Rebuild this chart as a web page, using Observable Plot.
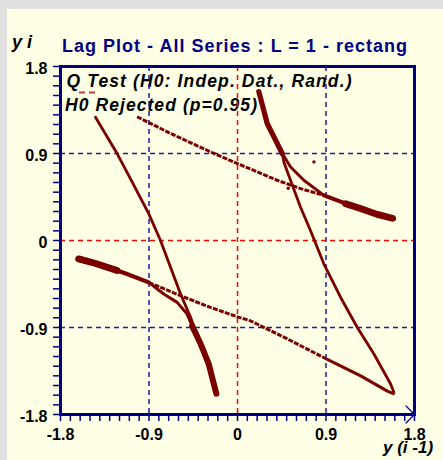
<!DOCTYPE html>
<html>
<head>
<meta charset="utf-8">
<script src="https://cdn.jsdelivr.net/npm/d3@7"></script>
<script src="https://cdn.jsdelivr.net/npm/@observablehq/plot@0.6"></script>
<style>
  body { margin: 0; }
  #wrap { position: relative; width: 443px; height: 460px; background: #e0e0e0; overflow: hidden; }
  #panel { position: absolute; left: 7px; top: 9px; right: 0; bottom: 0; background: #ffffe6; }
  #plot, #overlay { position: absolute; left: 0; top: 0; }
  .title { font: bold 18px "Liberation Sans", Arial, sans-serif; fill: #000080; }
  .ylab { font: italic bold 18px "Liberation Sans", Arial, sans-serif; fill: #000; }
  .leg { font: italic bold 17.5px "Liberation Sans", Arial, sans-serif; fill: #000; }
</style>
</head>
<body>
<div id="wrap">
  <div id="panel"></div>
  <svg id="overlay" width="443" height="460">
    <text class="ylab" x="12" y="48">y i</text>
    <text class="title" x="62" y="52" textLength="345" lengthAdjust="spacing">Lag Plot - All Series : L = 1 - rectang</text>
    <text class="leg" x="66.5" y="87" textLength="285" lengthAdjust="spacing">Q Test (H0: Indep. Dat., Rand.)</text>
    <text class="leg" x="65" y="111" textLength="192" lengthAdjust="spacing">H0 Rejected (p=0.95)</text>
    <line x1="79" y1="92.5" x2="98" y2="92.5" stroke="#c04040" stroke-width="2" stroke-dasharray="6,4"></line>
    <text class="ylab" x="383" y="453" style="font-size:17px">y (i -1)</text>
  </svg>
  <div id="plot"></div>
</div>
<script>
// ---- data ----
const xDomain = [-1.8, 1.8];
const yDomain = [-1.8, 1.8];
const majorTickValues = [-1.8, -0.9, 0, 0.9, 1.8];
const majorTickLabels = ["-1.8", "-0.9", "0", "0.9", "1.8"];
const minorTickValues = d3.range(-18, 19).map(k => k / 10);
const blueGridValues = [-0.9, 0.9];
const redGridValues = [0];

// steep line, upper-left, running down into the lower blob
const upperLeftSteep = [[-1.444,1.275],[-1.223,0.897],[-1.088,0.638],[-0.902,0.276],[-0.783,0.0],[-0.58,-0.551],[-0.478,-0.793],[-0.45,-0.87]];
// thick band, lower-left
const lowerBandThick = [[-1.616,-0.19],[-1.45,-0.235],[-1.225,-0.311]];
const lowerBand = [[-1.225,-0.311],[-1.123,-0.346],[-0.903,-0.433]];
// lower diagonal (dotted part, then solid part)
const lowerDiagonalDotted = [[-0.903,-0.433],[-0.58,-0.571],[-0.275,-0.692],[0.0,-0.79],[0.132,-0.831],[0.472,-1.0],[0.913,-1.23]];
const lowerDiagonalSolid = [[0.913,-1.23],[1.253,-1.40],[1.524,-1.558],[1.585,-1.585]];
// lower curve bending into the blob
const lowerCurve = [[-0.903,-0.433],[-0.75,-0.554],[-0.614,-0.64],[-0.512,-0.761],[-0.461,-0.883]];
const lowerBlob = [[-0.461,-0.883],[-0.377,-1.065],[-0.292,-1.28],[-0.215,-1.585]];
// steep line, lower-right, running up into the upper blob
const rightSteep = [[1.59,-1.569],[1.556,-1.482],[1.386,-1.172],[1.217,-0.897],[1.048,-0.587],[0.878,-0.241],[0.742,0.103],[0.641,0.344],[0.54,0.62],[0.472,0.81],[0.455,0.9]];
// upper blob, curve and tail
const upperBlob = [[0.217,1.54],[0.302,1.21],[0.387,1.038],[0.455,0.9]];
const upperCurve = [[0.455,0.9],[0.54,0.761],[0.675,0.623],[0.879,0.467]];
const upperTail = [[0.879,0.467],[1.15,0.363],[1.388,0.277],[1.592,0.225]];
const upperTailThick = [[1.1,0.38],[1.25,0.33],[1.42,0.27],[1.575,0.23]];
// upper diagonal (dotted)
const upperDiagonalDotted = [[-1.021,1.28],[-0.682,1.108],[-0.275,0.917],[0.0,0.796],[0.404,0.623],[0.642,0.537],[0.879,0.467]];
// stray points
const strayPoints = [[0.777,0.813],[0.516,0.54]];

// ---- drawing ----
const maroon = "#7a0000";
const navy = "#000080";
const gridBlue = "#1c1c9c";
const P = d => d[0], Q = d => d[1];
const lineOpts = (w, extra = {}) => ({x: P, y: Q, stroke: maroon, strokeWidth: w, strokeLinecap: "round", strokeLinejoin: "round", ...extra});
const dotted = {strokeDasharray: "5,1.3", strokeLinecap: "butt"};
const labelFor = d => majorTickLabels[majorTickValues.indexOf(d)];
const labelFont = {fontFamily: "'Liberation Sans', Arial, sans-serif", fontSize: 16, fontWeight: "bold", fill: "black"};
const xMin = xDomain[0], xMax = xDomain[1], yMin = yDomain[0], yMax = yDomain[1];

const chart = Plot.plot({
  width: 443,
  height: 460,
  marginLeft: 60,
  marginRight: 29,
  marginTop: 66,
  marginBottom: 46,
  style: {background: "transparent"},
  x: {domain: xDomain},
  y: {domain: yDomain},
  marks: [
    Plot.ruleX(blueGridValues, {stroke: gridBlue, strokeWidth: 1.5, strokeDasharray: "5,4"}),
    Plot.ruleY(blueGridValues, {stroke: gridBlue, strokeWidth: 1.5, strokeDasharray: "5,4"}),
    Plot.ruleX(redGridValues, {stroke: "#ff0000", strokeWidth: 1.5, strokeDasharray: "5,4"}),
    Plot.ruleY(redGridValues, {stroke: "#ff0000", strokeWidth: 1.5, strokeDasharray: "5,4"}),

    Plot.line(upperLeftSteep, lineOpts(2.8)),
    Plot.line(lowerBand, lineOpts(4.2)),
    Plot.line(lowerBandThick, lineOpts(6.8)),
    Plot.line(lowerDiagonalDotted, lineOpts(3, dotted)),
    Plot.line(lowerDiagonalSolid, lineOpts(3)),
    Plot.line(lowerCurve, lineOpts(3)),
    Plot.line(lowerBlob, lineOpts(6)),
    Plot.line(rightSteep, lineOpts(2.8)),
    Plot.line(upperBlob, lineOpts(5.2)),
    Plot.line(upperCurve, lineOpts(3)),
    Plot.line(upperTail, lineOpts(4.2)),
    Plot.line(upperTailThick, lineOpts(6.8)),
    Plot.line(upperDiagonalDotted, lineOpts(3, dotted)),
    Plot.dot(strayPoints, {x: P, y: Q, r: 1.7, fill: maroon}),

    // axis ticks every 0.1 (outward, left and bottom)
    Plot.axisY({ticks: minorTickValues, tickSize: 7, tickFormat: () => "", stroke: navy, strokeWidth: 1.5, label: null}),
    Plot.axisX({ticks: minorTickValues, tickSize: 7, tickFormat: () => "", stroke: navy, strokeWidth: 1.5, label: null}),
    // tick labels
    Plot.text(majorTickValues, {x: xMin, y: d => d, text: labelFor, textAnchor: "end", dx: -13, dy: 2, ...labelFont}),
    Plot.text(majorTickValues, {x: d => d, y: yMin, text: labelFor, lineAnchor: "top", dy: 14, ...labelFont}),
    // axis arrow on x
    Plot.arrow([{x1: xMin, y1: yMin, x2: xMax, y2: yMin}], {x1: "x1", y1: "y1", x2: "x2", y2: "y2", stroke: navy, strokeWidth: 1.2, headLength: 15, headAngle: 90}),
    Plot.frame({stroke: navy, strokeWidth: 3})
  ]
});
document.getElementById("plot").appendChild(chart);
</script>
</body>
</html>
